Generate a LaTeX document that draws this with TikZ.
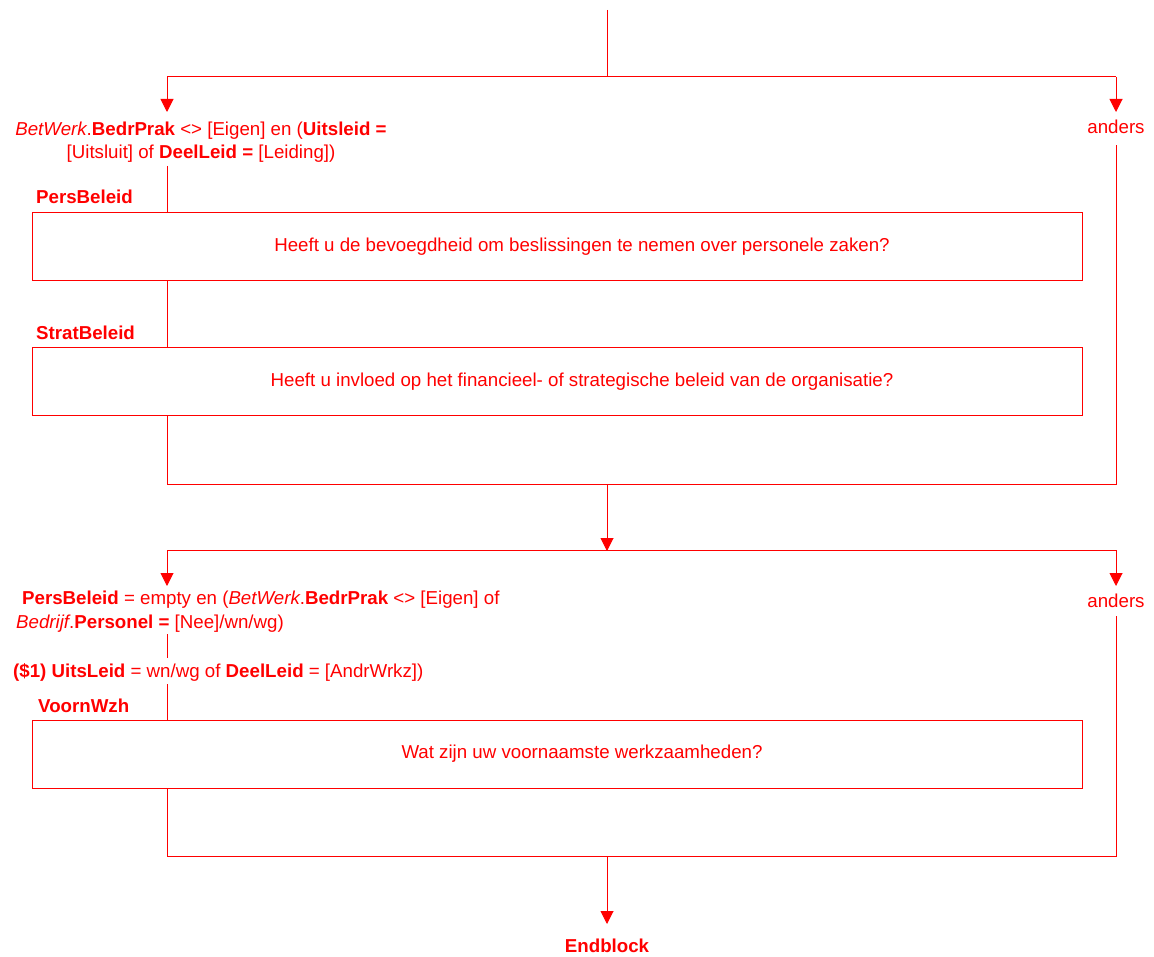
\documentclass[tikz,border=0pt]{standalone}
\usepackage{fontspec}
\setmainfont{Liberation Sans}
\usetikzlibrary{arrows.meta,calc}
\definecolor{fred}{RGB}{255,0,0}
\begin{document}
\begin{tikzpicture}[x=1pt,y=-1pt,
  every node/.style={text=fred,font=\fontsize{18.7}{23.5}\selectfont,inner sep=0pt},
  conn/.style={draw=fred,line width=1pt},
  arr/.style={conn,-{Triangle[width=13pt,length=13pt]}},
  qbox/.style={draw=fred,line width=1pt,minimum width=1050pt,minimum height=68pt},
  lbl/.style={anchor=base west,font=\fontsize{18.7}{23.5}\selectfont\bfseries},
  txt/.style={anchor=base}]
\useasboundingbox (0,0) rectangle (1154,957);
% block 1
\coordinate (top) at (607,10);
\coordinate (j1) at (607,77);
\coordinate (l1) at (167,77);
\coordinate (r1) at (1116,77);
\coordinate (l1e) at (167,112);
\coordinate (r1e) at (1116,112);
\node[txt,align=center] (cond1) at (201,159) {\textit{BetWerk}.\textbf{BedrPrak} <> [Eigen] en (\textbf{Uitsleid =}\\{}[Uitsluit] of \textbf{DeelLeid =} [Leiding])};
\node[txt] (anders1) at (1116,134) {anders};
\coordinate (c1s) at (167,166);
\node[lbl] (lPers) at (36,204) {PersBeleid};
\node[qbox] (box1) at (557,246.5) {};
\node (q1) at (582,246.5) {Heeft u de bevoegdheid om beslissingen te nemen over personele zaken?};
\node[lbl] (lStrat) at (36,340) {StratBeleid};
\node[qbox] (box2) at (557,382) {};
\node (q2) at (582,382) {Heeft u invloed op het financieel- of strategische beleid van de organisatie?};
\coordinate (lb1) at (167,484);
\coordinate (rb1) at (1116,484);
\coordinate (r1s) at (1116,145);
\coordinate (m1) at (607,484);
\draw[conn] (top) -- (j1);
\draw[conn] (l1) -- (r1);
\draw[arr] (l1) -- (l1e);
\draw[arr] (r1) -- (r1e);
\draw[conn] (c1s) -- (c1s|-box1.north);
\draw[conn] (c1s|-box1.south) -- (c1s|-box2.north);
\draw[conn] (c1s|-box2.south) -- (lb1) -- (rb1) -- (r1s);
% block 2
\coordinate (j2) at (607,551);
\coordinate (l2) at (167,550);
\coordinate (r2) at (1116,550);
\coordinate (l2e) at (167,586);
\coordinate (r2e) at (1116,586);
\draw[arr] (m1) -- (j2);
\draw[conn] (l2) -- (r2);
\draw[arr] (l2) -- (l2e);
\draw[arr] (r2) -- (r2e);
\node[anchor=base west,align=left] (cond2) at (16,628) {\hspace{6pt}\textbf{PersBeleid} = empty en (\textit{BetWerk}.\textbf{BedrPrak} <> [Eigen] of\\{}\textit{Bedrijf}.\textbf{Personel =} [Nee]/wn/wg)};
\node[txt] (anders2) at (1116,607) {anders};
\coordinate (c2s) at (167,634);
\coordinate (c2e) at (167,658);
\node[anchor=base west] (cond3) at (13,677) {\textbf{(\$1) UitsLeid} = wn/wg of \textbf{DeelLeid} = [AndrWrkz])};
\coordinate (c3s) at (167,684);
\node[lbl] (lVoorn) at (38,712) {VoornWzh};
\node[qbox] (box3) at (557,754) {};
\node (q3) at (582,754) {Wat zijn uw voornaamste werkzaamheden?};
\coordinate (lb2) at (167,856);
\coordinate (rb2) at (1116,856);
\coordinate (r2s) at (1116,616);
\coordinate (m2) at (607,856);
\coordinate (m2e) at (607,924);
\draw[conn] (c2s) -- (c2e);
\draw[conn] (c3s) -- (c3s|-box3.north);
\draw[conn] (c3s|-box3.south) -- (lb2) -- (rb2) -- (r2s);
\draw[arr] (m2) -- (m2e);
\node[txt,font=\fontsize{18.7}{23.5}\selectfont\bfseries] (endb) at (607,952) {Endblock};
\end{tikzpicture}
\end{document}
